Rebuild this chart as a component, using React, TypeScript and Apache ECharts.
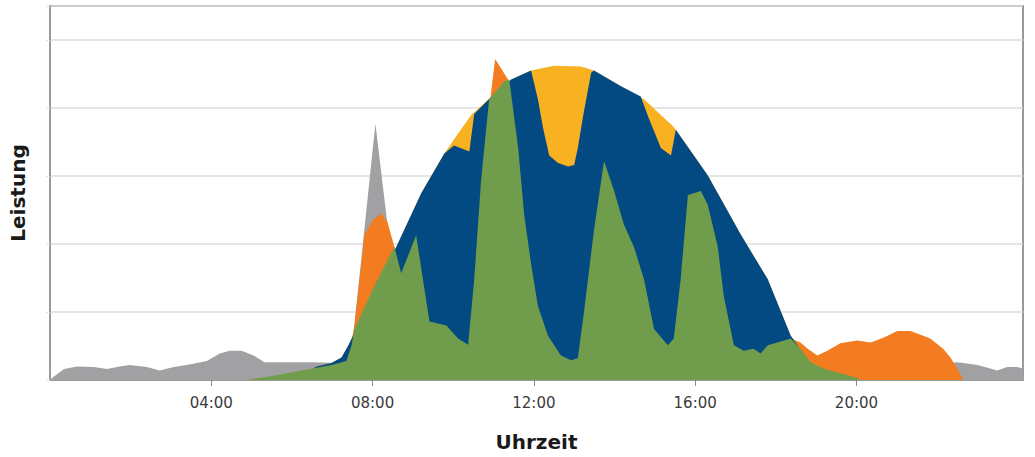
import React, { useEffect, useRef } from "react";
import * as echarts from "echarts";

// [hour, power] pairs
const netzbezug: [number, number][] = [
  [0, 0], [0.05, 0.03], [0.35, 0.16], [0.67, 0.2], [1.09, 0.19], [1.41, 0.16], [1.73, 0.2], [1.98, 0.22],
  [2.4, 0.19], [2.72, 0.14], [3.07, 0.19], [3.39, 0.22], [3.89, 0.28], [4.21, 0.39], [4.46, 0.43],
  [4.75, 0.43], [5.05, 0.36], [5.32, 0.26], [6.44, 0.26], [7.23, 0.25], [7.43, 0.36], [7.52, 0.65],
  [8.07, 3.77], [8.34, 2.43], [8.59, 1.23], [8.96, 0.51], [9.7, 0.25], [22.33, 0.25], [22.5, 0.26],
  [22.65, 0.25], [23.0, 0.22], [23.32, 0.17], [23.49, 0.14], [23.74, 0.19], [23.99, 0.19], [24.13, 0.17],
];

const verbrauch: [number, number][] = [
  [6.98, 0], [7.48, 0.58], [7.55, 0.8], [7.8, 2.14], [8.02, 2.36], [8.22, 2.45], [8.37, 2.32],
  [8.54, 1.96], [8.71, 1.59], [9.21, 1.23], [10.45, 1.23], [10.82, 2.68], [10.89, 3.99], [11.04, 4.72],
  [11.39, 4.39], [11.56, 3.84], [11.68, 3.41], [12.18, 1.96], [12.67, 0.8], [16.14, 0.8], [17.13, 0.36],
  [17.62, 0.36], [18.12, 0.58], [18.37, 0.61], [18.61, 0.55], [18.79, 0.46], [19.03, 0.36], [19.28, 0.43],
  [19.6, 0.54], [20.02, 0.58], [20.35, 0.55], [20.67, 0.62], [21.01, 0.72], [21.34, 0.72], [21.83, 0.61],
  [22.15, 0.46], [22.33, 0.33], [22.5, 0.17], [22.65, 0],
];

const pvErzeugung: [number, number][] = [
  [5.99, 0], [6.24, 0.07], [6.61, 0.2], [6.98, 0.25], [7.23, 0.33], [7.4, 0.51], [8.02, 1.26],
  [8.59, 1.96], [9.21, 2.75], [9.78, 3.33], [10.07, 3.58], [10.45, 3.9], [10.94, 4.16], [11.44, 4.42],
  [11.93, 4.55], [12.5, 4.62], [13.17, 4.61], [13.49, 4.55], [14.16, 4.32], [14.73, 4.13], [15.47, 3.72],
  [16.31, 3.01], [17.13, 2.14], [17.8, 1.48], [18.37, 0.65], [18.54, 0.51], [18.74, 0.25], [18.91, 0],
];

const pvGenutzt: [number, number][] = [
  [5.99, 0], [6.24, 0.07], [6.61, 0.2], [6.98, 0.25], [7.23, 0.33], [7.4, 0.51], [8.02, 1.26],
  [8.59, 1.96], [9.21, 2.75], [9.78, 3.33], [10.02, 3.45], [10.4, 3.36], [10.52, 3.91], [10.94, 4.16],
  [11.44, 4.42], [11.93, 4.55], [12.1, 4.13], [12.23, 3.7], [12.38, 3.3], [12.6, 3.19], [12.85, 3.14],
  [13.0, 3.16], [13.09, 3.41], [13.22, 3.88], [13.42, 4.52], [13.49, 4.55], [14.16, 4.32], [14.65, 4.17],
  [14.83, 3.88], [15.15, 3.41], [15.4, 3.3], [15.52, 3.68], [16.31, 3.01], [17.13, 2.14], [17.8, 1.48],
  [18.37, 0.65], [18.54, 0.51], [18.74, 0.25], [18.91, 0],
];

const eigenverbrauch: [number, number][] = [
  [4.88, 0], [5.5, 0.06], [6.24, 0.14], [6.98, 0.22], [7.35, 0.28], [7.48, 0.51], [7.55, 0.75],
  [8.04, 1.38], [8.54, 1.96], [8.71, 1.57], [9.08, 2.13], [9.41, 0.86], [9.83, 0.8], [10.12, 0.61],
  [10.37, 0.52], [10.52, 1.48], [10.69, 2.93], [10.89, 4.13], [11.26, 4.39], [11.39, 4.42], [11.61, 3.41],
  [11.76, 2.43], [11.93, 1.71], [12.1, 1.09], [12.35, 0.65], [12.67, 0.36], [12.92, 0.29], [13.09, 0.32],
  [13.24, 0.99], [13.49, 2.2], [13.74, 3.22], [13.99, 2.78], [14.23, 2.29], [14.48, 1.96], [14.73, 1.48],
  [14.98, 0.75], [15.32, 0.51], [15.47, 0.61], [15.64, 1.48], [15.82, 2.72], [16.14, 2.78], [16.31, 2.58],
  [16.56, 1.96], [16.71, 1.23], [16.96, 0.51], [17.2, 0.43], [17.45, 0.46], [17.62, 0.39], [17.8, 0.51],
  [18.04, 0.55], [18.37, 0.61], [18.61, 0.46], [18.86, 0.26], [19.18, 0.17], [19.6, 0.1], [20.02, 0.03],
  [20.1, 0],
];

const tickHours = [4, 8, 12, 16, 20];

const fmtHour = (v: number) => `${String(Math.round(v)).padStart(2, "0")}:00`;

const area = (name: string, data: [number, number][], color: string, z: number) => ({
  name,
  type: "line",
  z,
  data,
  symbol: "none",
  smooth: false,
  lineStyle: { width: 0, color },
  areaStyle: { color, opacity: 1 },
  itemStyle: { color },
});

export default function App() {
  const ref = useRef<HTMLDivElement>(null);
  useEffect(() => {
    if (!ref.current) return;
    const chart = echarts.init(ref.current, null, { renderer: "svg" });
    chart.setOption({
      animation: false,
      backgroundColor: "#ffffff",
      grid: {
        left: 48,
        right: 12,
        top: 6,
        bottom: 72,
        show: true,
        borderColor: "#9a9a9a",
        borderWidth: 2,
        backgroundColor: "transparent",
      },
      xAxis: {
        type: "value",
        min: 0,
        max: 24.13,
        interval: 4,
        name: "Uhrzeit",
        nameLocation: "middle",
        nameGap: 52,
        nameTextStyle: { fontFamily: "DejaVu Sans", fontWeight: "bold", fontSize: 20, color: "#1a1a1a" },
        axisLine: { show: true, lineStyle: { color: "#9a9a9a", width: 2 } },
        axisTick: { show: true, customValues: tickHours, length: 6, lineStyle: { color: "#888", width: 1 } },
        axisLabel: {
          customValues: tickHours,
          formatter: (v: number) => fmtHour(v),
          margin: 15,
          fontFamily: "DejaVu Sans",
          fontSize: 15,
          color: "#3a3a3a",
        },
        splitLine: { show: false },
      },
      yAxis: {
        type: "value",
        min: 0,
        max: 5.5,
        interval: 1,
        name: "Leistung",
        nameLocation: "middle",
        nameGap: 22,
        nameTextStyle: { fontFamily: "DejaVu Sans", fontWeight: "bold", fontSize: 20, color: "#1a1a1a" },
        axisLine: { show: true, lineStyle: { color: "#9a9a9a", width: 2 } },
        axisTick: { show: true, length: 4, lineStyle: { color: "#e6e6e6" } },
        axisLabel: { show: false },
        splitLine: { show: true, lineStyle: { color: "#dcdcdc", width: 1.5 } },
      },
      series: [
        area("Netzbezug", netzbezug, "#a1a1a4", 2),
        area("Verbrauch", verbrauch, "#f27c1f", 3),
        area("PV-Erzeugung", pvErzeugung, "#f8b120", 4),
        area("PV genutzt", pvGenutzt, "#034a82", 5),
        area("Eigenverbrauch", eigenverbrauch, "#6f9d4b", 6),
      ],
    });
    return () => chart.dispose();
  }, []);
  return <div ref={ref} style={{ width: 1035, height: 457, position: "absolute", left: 0, top: 0 }} />;
}
